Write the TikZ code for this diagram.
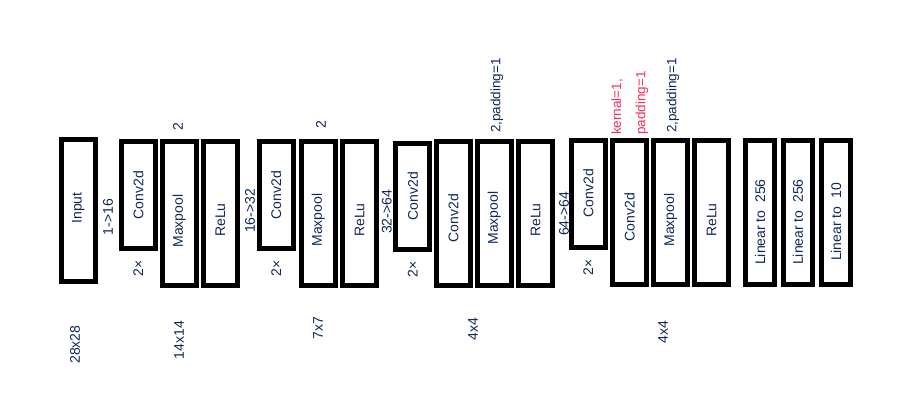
\documentclass[tikz,border=0pt]{standalone}
\usepackage{fontspec}
\setmainfont{Liberation Sans}
\usetikzlibrary{positioning}
\definecolor{inkblue}{RGB}{15,40,85}
\definecolor{kred}{RGB}{250,45,85}

\begin{document}
\begin{tikzpicture}[x=1pt,y=-1pt,
    blk/.style={draw, line width=5pt, inner sep=0pt, outer sep=0pt},
    lbl/.style={rotate=90, inner sep=0pt, text=inkblue, font=\fontsize{14}{16}\selectfont},
    note/.style={lbl, anchor=west, font=\fontsize{13.5}{15}\selectfont}]
    \useasboundingbox (0,0) rectangle (900,400);
    \foreach \n/\x/\y/\h/\w/\ty/\t in {inp/78.3/210.7/141.5/33.7/208/Input,
        c1/138.3/195/106.5/33.7/195/Conv2d, m1/179.3/213.5/143.5/33.7/221/Maxpool, r1/220.3/213.5/143.5/33.7/220/ReLu,
        c2/276.2/195/106.5/33.7/195/Conv2d, m2/318.3/213.5/143.5/33.7/220/Maxpool, r2/359.5/213.5/143.5/33.7/220/ReLu,
        c3/412.8/196.2/106/33.7/196/Conv2d, c4/453.3/213.5/143.5/33.7/218/Conv2d, m3/494.3/213.5/143.5/33.7/218/Maxpool, r3/535.5/213.5/143.5/33.7/220/ReLu,
        c5/588.3/194/106.7/33.7/193/Conv2d, c6/629.5/212.5/143.5/33.7/217/Conv2d, m4/670.5/212.5/143.5/33.7/220/Maxpool, r4/711.7/212.5/143.5/33.7/220/ReLu,
        l1/760/212.5/143.5/29/222/Linear to\ \ 256, l2/797.8/212.5/143.5/29/222/Linear to\ \ 256, l3/836.2/212.5/143.5/29/222/Linear to\ \ 10}
    {
        \node[blk, minimum width=\w, minimum height=\h] (\n) at (\x,\y) {};
        \node[lbl] (\n-t) at (\x,\ty) {\t};
    }
    \node[lbl] (ch1) at (108,217) {1->16};
    \node[lbl] (ch2) at (250,211) {16->32};
    \node[lbl] (ch3) at (386.7,212) {32->64};
    \node[lbl] (ch4) at (564,214) {64->64};
    \foreach \n in {c1,c2,c3,c5}
        \node[lbl] (\n-x) at ([yshift=-20pt]\n.south) {2×};
    \node[lbl] (k1) at (178,127) {2};
    \node[lbl] (k2) at (321,125) {2};
    \node[note] (k3) at (497,133) {2,padding=1};
    \node[note, text=kred] (k5a) at (617,135) {kernal=1,};
    \node[note, text=kred] (k5b) at (642,135) {padding=1};
    \node[note] (k4) at (673,133) {2,padding=1};
    \node[lbl] (s0) at (75,344.5) {28x28};
    \node[lbl] (s1) at (179,340) {14x14};
    \node[lbl] (s2) at (318,328) {7x7};
    \node[lbl] (s3) at (473,329) {4x4};
    \node[lbl] (s4) at (663,332) {4x4};
\end{tikzpicture}
\end{document}
